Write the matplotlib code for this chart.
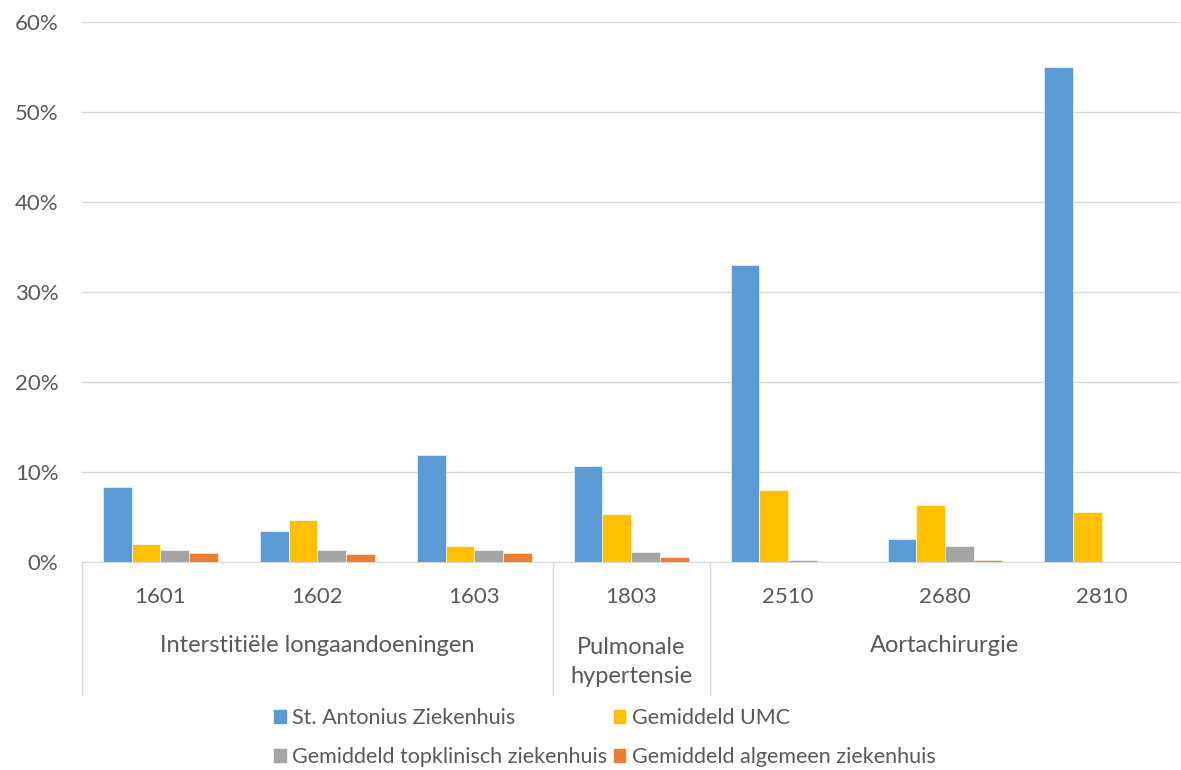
import numpy as np
import matplotlib.pyplot as plt
from matplotlib.patches import Patch
from matplotlib.ticker import FuncFormatter

categories = ['1601', '1602', '1603', '1803', '2510', '2680', '2810']
groups = [('Interstitiële longaandoeningen', 0, 2),
          ('Pulmonale\nhypertensie', 3, 3),
          ('Aortachirurgie', 4, 6)]

series_names = ['St. Antonius Ziekenhuis', 'Gemiddeld UMC',
                'Gemiddeld topklinisch ziekenhuis', 'Gemiddeld algemeen ziekenhuis']
antonius = [8.4, 3.5, 11.9, 10.7, 33.0, 2.6, 55.0]
umc = [2.0, 4.7, 1.8, 5.4, 8.0, 6.4, 5.6]
topklinisch = [1.4, 1.3, 1.4, 1.15, 0.2, 1.75, 0.0]
algemeen = [1.0, 0.85, 1.0, 0.6, 0.0, 0.25, 0.0]
colors = ['#5B9BD5', '#FFC000', '#A5A5A5', '#ED7D31']

plt.rcParams['font.family'] = ['Lato', 'DejaVu Sans']
txt = '#595959'

fig = plt.figure(figsize=(11.81, 7.70), dpi=100)
ax = fig.add_axes([0.0694, 0.270, 0.93, 0.701])

x = np.arange(len(categories))
w = 0.183
data = [antonius, umc, topklinisch, algemeen]
for i, (vals, c) in enumerate(zip(data, colors)):
    ax.bar(x + (i - 1.5) * w, vals, w, color=c, edgecolor='white', linewidth=0.4, zorder=3)

ax.set_xlim(-0.5, 6.5)
ax.set_ylim(0, 60)
ax.set_yticks(np.arange(0, 61, 10))
ax.yaxis.set_major_formatter(FuncFormatter(lambda v, p: f'{v:.0f}%'))
ax.tick_params(axis='y', length=0, pad=17, labelsize=16, labelcolor=txt)
ax.set_xticks([])
ax.grid(axis='y', color='#d9d9d9', linewidth=1, zorder=0)
for s in ['top', 'right', 'left']:
    ax.spines[s].set_visible(False)
ax.spines['bottom'].set_color('#d9d9d9')

tr = ax.get_xaxis_transform()
for xi, lab in zip(x, categories):
    ax.text(xi, -0.065, lab, transform=tr, ha='center', va='center', fontsize=16, color=txt)
for name, a, b in groups:
    yy = -0.185 if '\n' in name else -0.154
    ax.text((a + b) / 2, yy, name, transform=tr, ha='center', va='center',
            fontsize=17, color=txt, linespacing=1.5)
for xs in [-0.5, 2.5, 3.5]:
    ax.plot([xs, xs], [0, -0.246], transform=tr, color='#d9d9d9', linewidth=1, clip_on=False)

handles = [Patch(color=c) for c in colors]
order = [0, 2, 1, 3]
fig.legend([handles[i] for i in order], [series_names[i] for i in order],
           loc='center', bbox_to_anchor=(0.512, 0.042), ncol=2, frameon=False,
           fontsize=15.5, labelcolor=txt, handlelength=0.55, handleheight=0.55,
           handletextpad=0.3, columnspacing=0.3, labelspacing=0.9)

fig.savefig('out.png', dpi=100)
